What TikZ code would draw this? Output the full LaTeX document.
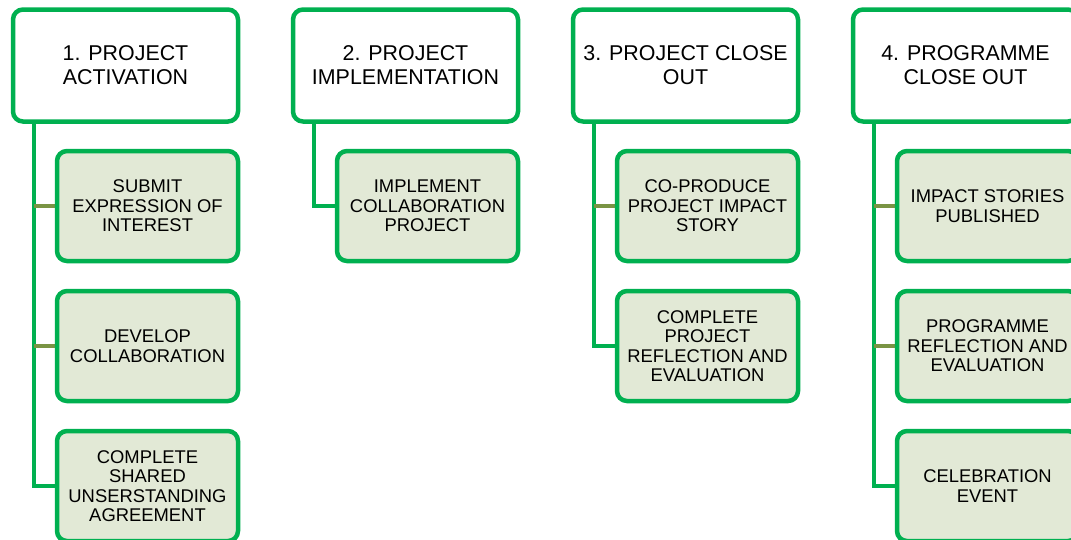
\documentclass[tikz,border=0pt]{standalone}
\usepackage{fontspec}
\setmainfont{Liberation Sans}
\usetikzlibrary{backgrounds}
\definecolor{stagegreen}{RGB}{0,176,80}
\definecolor{taskfill}{RGB}{226,233,214}
\definecolor{taskstub}{RGB}{122,148,68}

\begin{document}
\begin{tikzpicture}[x=1pt, y=-1pt,
    stage/.style={draw=stagegreen, line width=4.5pt, rounded corners=10pt, fill=white,
      minimum width=225pt, minimum height=112pt, inner sep=0pt, align=center,
      font=\fontsize{21.4}{24}\selectfont},
    task/.style={draw=stagegreen, line width=4.5pt, rounded corners=10pt, fill=taskfill,
      minimum width=181pt, minimum height=110pt, inner sep=0pt, align=center,
      font=\fontsize{18.4}{19.5}\selectfont},
    trunk/.style={draw=stagegreen, line width=4pt},
    stub/.style={draw=taskstub, line width=4pt}]
      \useasboundingbox (0,0) rectangle (1071,539);
      \clip (0,0) rectangle (1071,539);

      \node[stage] (p1) at (125.5, 65.5) {1. PROJECT\\ACTIVATION};
      \node[stage] (p2) at (405.5, 65.5) {2. PROJECT\\IMPLEMENTATION};
      \node[stage] (p3) at (685.5, 65.5) {3. PROJECT CLOSE\\OUT};
      \node[stage] (p4) at (965.5, 65.5) {4. PROGRAMME\\CLOSE OUT};

      \node[task] (c11) at (147.5, 206) {SUBMIT\\EXPRESSION OF\\INTEREST};
      \node[task] (c12) at (147.5, 346) {DEVELOP\\COLLABORATION};
      \node[task] (c13) at (147.5, 486) {COMPLETE\\SHARED\\UNSERSTANDING\\AGREEMENT};
      \node[task] (c21) at (427.5, 206) {IMPLEMENT\\COLLABORATION\\PROJECT};
      \node[task] (c31) at (707.5, 206) {CO-PRODUCE\\PROJECT IMPACT\\STORY};
      \node[task] (c32) at (707.5, 346) {COMPLETE\\PROJECT\\REFLECTION AND\\EVALUATION};
      \node[task] (c41) at (987.5, 206) {IMPACT STORIES\\PUBLISHED};
      \node[task] (c42) at (987.5, 346) {PROGRAMME\\REFLECTION AND\\EVALUATION};
      \node[task] (c43) at (987.5, 486) {CELEBRATION\\EVENT};

      \coordinate (t1) at ([xshift=23pt]p1.south west);
      \coordinate (t2) at ([xshift=23pt]p2.south west);
      \coordinate (t3) at ([xshift=23pt]p3.south west);
      \coordinate (t4) at ([xshift=23pt]p4.south west);

      \begin{scope}[on background layer]
        \draw[trunk] (t1) |- (c13.west);
        \draw[stub] (t1 |- c11.west) -- (c11.west);
        \draw[stub] (t1 |- c12.west) -- (c12.west);
        \draw[trunk] (t2) |- (c21.west);
        \draw[trunk] (t3) |- (c32.west);
        \draw[stub] (t3 |- c31.west) -- (c31.west);
        \draw[trunk] (t4) |- (c43.west);
        \draw[stub] (t4 |- c41.west) -- (c41.west);
        \draw[stub] (t4 |- c42.west) -- (c42.west);
      \end{scope}
    \end{tikzpicture}
\end{document}
